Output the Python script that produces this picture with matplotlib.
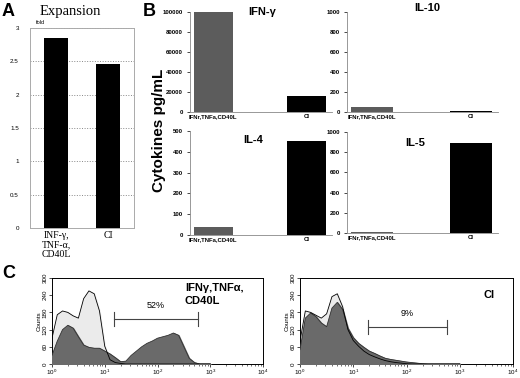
import numpy as np
import matplotlib
matplotlib.use("Agg")
import matplotlib.pyplot as plt

plt.rcParams['font.family'] = ['Liberation Sans', 'DejaVu Sans']

# ================= DATA =================
# Panel A: expansion fold
exp_labels = ["INF-\u03b3,\nTNF-\u03b1,\nCD40L", "CI"]
exp_values = [2.85, 2.46]

# Panel B: cytokines (pg/mL)
cyt_labels = ["IFNr,TNFa,CD40L", "CI"]
ifng_values = [100000, 16000]
il10_values = [55, 6]
il4_values = [38, 452]
il5_values = [8, 890]

# Panel C: flow histograms (log10 fluorescence vs counts)
log_grid = [0.0, 0.1, 0.2, 0.3, 0.4, 0.5, 0.6, 0.7, 0.8, 0.9,
            1.0, 1.1, 1.2, 1.3, 1.4, 1.5, 1.6, 1.7, 1.8, 1.9,
            2.0, 2.1, 2.2, 2.3, 2.4, 2.5, 2.6, 2.7, 2.8, 2.9, 3.0]
left_ctrl = [90, 172, 185, 180, 168, 160, 228, 255, 245, 185,
             62, 15, 5, 2, 0, 0, 0, 0, 0, 0,
             0, 0, 0, 0, 0, 0, 0, 0, 0, 0, 0]
left_stim = [30, 80, 120, 135, 125, 95, 66, 58, 55, 55,
             45, 35, 22, 8, 10, 30, 45, 60, 72, 80,
             90, 95, 100, 108, 100, 60, 20, 5, 0, 0, 0]
right_ctrl = [80, 185, 180, 170, 160, 175, 235, 245, 200, 120,
              82, 62, 45, 33, 25, 18, 12, 8, 5, 3,
              1, 0, 0, 0, 0, 0, 0, 0, 0, 0, 0]
right_stim = [50, 160, 178, 165, 143, 130, 195, 215, 190, 125,
              92, 72, 58, 45, 37, 28, 20, 16, 13, 10,
              7, 5, 3, 1, 0, 0, 0, 0, 0, 0, 0]
left_gate = (15.2, 575, 157, "52%")
right_gate = (18.6, 586, 129, "9%")

W, H = 520, 378


def px_axes(fig, left, top, right, bottom):
    """Add axes from pixel box (origin top-left)."""
    return fig.add_axes([left / W, 1 - bottom / H, (right - left) / W, (bottom - top) / H])


fig = plt.figure(figsize=(5.2, 3.78), dpi=100)

# ===== PANEL A =====
axA = px_axes(fig, 30, 28, 134, 228)
axA.bar([0, 1], exp_values, width=0.48, color="black", zorder=3)
axA.set_xlim(-0.5, 1.5)
axA.set_ylim(0, 3)
axA.set_yticks(np.arange(0, 3.01, 0.5))
axA.set_yticklabels(["0", "0.5", "1", "1.5", "2", "2.5", "3"], fontsize=4.5)
axA.yaxis.grid(True, linestyle=":", color="#888888", linewidth=0.7)
axA.tick_params(axis="y", length=0, pad=8)
axA.tick_params(axis="x", length=0, pad=2)
axA.set_xticks([0, 1])
axA.set_xticklabels(exp_labels, fontsize=7, family="Liberation Serif",
                    va="top", linespacing=1.1)
for s in axA.spines.values():
    s.set_color("#aaaaaa")
    s.set_linewidth(0.7)
fig.text(70 / W, 1 - 12 / H, "Expansion", family="Liberation Serif",
         fontsize=10.5, ha="center", va="center")
fig.text(40 / W, 1 - 22 / H, "fold", fontsize=4, ha="center", va="center")
fig.text(2 / W, 1 - 12 / H, "A", fontsize=13, fontweight="bold", va="center")

# ===== PANEL B =====
bar_colors = ["#5c5c5c", "black"]
panels = [
    (190, 12, 332, 112, ifng_values, 100000, 20000, "IFN-\u03b3", 262, 12),
    (347, 12, 498, 112, il10_values, 1000, 200, "IL-10", 427, 8),
    (190, 131, 332, 235, il4_values, 500, 100, "IL-4", 253, 140),
    (347, 132, 498, 233, il5_values, 1000, 200, "IL-5", 415, 143),
]
for (l, t, r, b, vals, ymax, step, title, tx, ty) in panels:
    ax = px_axes(fig, l, t, r, b)
    ax.bar([0, 1], vals, width=0.42, color=bar_colors, zorder=3)
    ax.set_xlim(-0.25, 1.27)
    ax.set_ylim(0, ymax)
    ax.set_yticks(np.arange(0, ymax + 1, step))
    ax.tick_params(axis="y", labelsize=4.3, length=2, width=0.5, pad=3)
    ax.tick_params(axis="x", labelsize=4.3, length=0, pad=1.5)
    for lab in ax.get_yticklabels():
        lab.set_fontweight("bold")
    ax.set_xticks([0, 1])
    ax.set_xticklabels(cyt_labels, fontweight="bold")
    ax.spines["top"].set_visible(False)
    ax.spines["right"].set_visible(False)
    for sp in ("left", "bottom"):
        ax.spines[sp].set_color("#888888")
        ax.spines[sp].set_linewidth(0.6)
    fig.text(tx / W, 1 - ty / H, title, fontsize=8, fontweight="bold",
             ha="center", va="center")
fig.text(159 / W, 1 - 130 / H, "Cytokines pg/mL", fontsize=11, fontweight="bold",
         rotation=90, ha="center", va="center")
fig.text(143 / W, 1 - 12 / H, "B", fontsize=13, fontweight="bold", va="center")

# ===== PANEL C =====
hists = [
    ((52, 278, 263, 364), left_ctrl, left_stim, left_gate,
     "IFN\u03b3,TNF\u03b1,\nCD40L", 0.63, 0.94),
    ((300, 278, 513, 364), right_ctrl, right_stim, right_gate,
     "CI", 0.86, 0.86),
]
xs = 10 ** np.array(log_grid)
for (box, ctrl, stim, gate, label, lx, ly) in hists:
    ax = px_axes(fig, *box)
    ax.fill_between(xs, ctrl, color="#ebebeb", zorder=2)
    ax.fill_between(xs, stim, color="#6a6a6a", zorder=3)
    ax.plot(xs, stim, color="#333333", linewidth=0.6, zorder=4)
    ax.plot(xs, ctrl, color="black", linewidth=0.6, zorder=5)
    ax.set_xscale("log")
    ax.set_xlim(1, 1e4)
    ax.set_ylim(0, 300)
    ax.set_yticks([0, 60, 120, 180, 240, 300])
    ax.tick_params(axis="y", labelsize=4.5, length=2, width=0.5, pad=1,
                   labelrotation=90)
    ax.tick_params(axis="x", which="major", labelsize=4.5, length=2.5, width=0.5, pad=0.5)
    ax.tick_params(axis="x", which="minor", length=1.5, width=0.4)
    for lab in ax.get_yticklabels():
        lab.set_va("center")
    ax.set_ylabel("Counts", fontsize=4.5, labelpad=1)
    for s in ax.spines.values():
        s.set_linewidth(0.7)
    g0, g1, gy, gtxt = gate
    ax.plot([g0, g1], [gy, gy], color="#444444", linewidth=0.8, zorder=6)
    ax.plot([g0, g0], [gy - 25, gy + 25], color="#444444", linewidth=0.8, zorder=6)
    ax.plot([g1, g1], [gy - 25, gy + 25], color="#444444", linewidth=0.8, zorder=6)
    ax.text(np.sqrt(g0 * g1), gy + 48, gtxt, fontsize=6.5, ha="center", va="center")
    ax.text(lx, ly, label, transform=ax.transAxes, fontsize=8, fontweight="bold",
            ha="left", va="top", linespacing=1.3)
fig.text(2 / W, 1 - 274 / H, "C", fontsize=13, fontweight="bold", va="center")

fig.savefig("out.png", dpi=100)
